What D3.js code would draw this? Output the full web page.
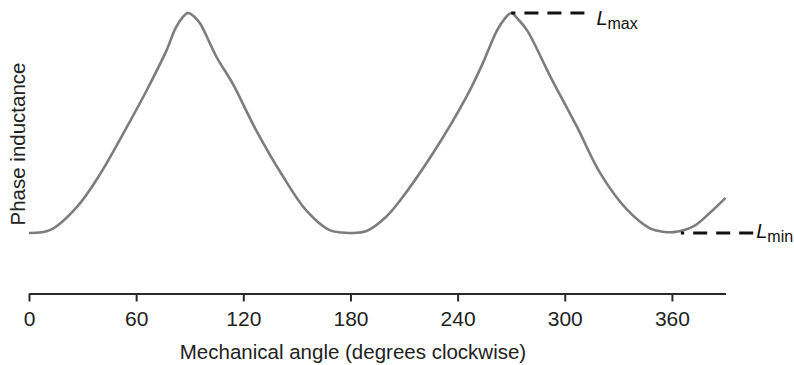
<!DOCTYPE html>
<html>
<head>
<meta charset="utf-8">
<script src="https://cdn.jsdelivr.net/npm/d3@7"></script>
<style>
  html, body { margin: 0; padding: 0; background: #fff; }
  svg { display: block; font-family: "Liberation Sans", Arial, Helvetica, sans-serif; }
</style>
</head>
<body>
<svg id="chart" width="794" height="365"></svg>
<script>
// Mechanical angle (degrees) and normalised phase inductance (0 = Lmin, 1 = Lmax)
const angles = [0, 12, 27, 40, 54, 66, 77, 82, 86, 89, 93, 96, 105, 114, 127, 142, 155, 168, 175, 180, 189, 200, 208, 226, 245, 254, 262, 266, 270, 274, 279, 292, 307, 320, 335, 348, 355, 361, 372, 381, 390];
const inductance = [0.00, 0.014, 0.12, 0.27, 0.47, 0.65, 0.83, 0.93, 0.98, 1.00, 0.98, 0.95, 0.80, 0.68, 0.47, 0.26, 0.105, 0.014, 0.002, 0.0, 0.009, 0.074, 0.15, 0.36, 0.62, 0.77, 0.92, 0.97, 1.00, 0.97, 0.92, 0.71, 0.48, 0.27, 0.105, 0.02, 0.006, 0.004, 0.03, 0.09, 0.16];
const xTicks = [0, 60, 120, 180, 240, 300, 360];
const xDomain = [0, 390];
const refLevels = [
  { name: "max", value: 1.0, fromAngle: 270, toAngle: 311 },
  { name: "min", value: 0.0, fromAngle: 365, toAngle: 405.5 }
];
const xTitle = "Mechanical angle (degrees clockwise)";
const yTitle = "Phase inductance";

const svg = d3.select("#chart");
const x = d3.scaleLinear().domain(xDomain).range([29, 725.5]);
const y = d3.scaleLinear().domain([0, 1]).range([233, 13]);

const data = angles.map((a, i) => ({ a, v: inductance[i] }));

// curve
svg.append("path")
  .datum(data)
  .attr("fill", "none")
  .attr("stroke", "#7d7d7d")
  .attr("stroke-width", 2.6)
  .attr("stroke-linejoin", "round")
  .attr("d", d3.line().x(d => x(d.a)).y(d => y(d.v)).curve(d3.curveCatmullRom.alpha(0.5)));

// x axis
const axisY = 293.5;
const gx = svg.append("g").attr("transform", `translate(0,${axisY})`)
  .call(d3.axisBottom(x).tickValues(xTicks).tickSize(8).tickSizeOuter(0).tickPadding(10));
gx.select(".domain").attr("stroke", "#2a2a2a").attr("stroke-width", 2.2);
gx.selectAll(".tick line").attr("stroke", "#2a2a2a").attr("stroke-width", 2);
gx.selectAll(".tick text")
  .attr("fill", "#222")
  .attr("font-size", 21)
  .attr("font-family", "'Liberation Sans', Arial, sans-serif");

// axis titles
svg.append("text")
  .attr("x", 353).attr("y", 359)
  .attr("text-anchor", "middle")
  .attr("font-size", 20.5)
  .attr("fill", "#222")
  .text(xTitle);

svg.append("text")
  .attr("transform", "translate(25,144) rotate(-90)")
  .attr("text-anchor", "middle")
  .attr("font-size", 20.5)
  .attr("fill", "#222")
  .text(yTitle);

// reference dashed lines and labels
refLevels.forEach(r => {
  svg.append("line")
    .attr("x1", x(r.toAngle)).attr("x2", x(r.fromAngle))
    .attr("y1", y(r.value)).attr("y2", y(r.value))
    .attr("stroke", "#111")
    .attr("stroke-width", 3)
    .attr("stroke-dasharray", "14,9");
  const t = svg.append("text")
    .attr("x", x(r.toAngle) + (r.name === "max" ? 12 : 3))
    .attr("y", y(r.value) + (r.name === "max" ? 12 : 5))
    .attr("fill", "#111")
    .attr("font-size", 20);
  t.append("tspan").attr("font-style", "italic").text("L");
  t.append("tspan").attr("font-size", 16).attr("dy", 4).text(r.name);
});
</script>
</body>
</html>
